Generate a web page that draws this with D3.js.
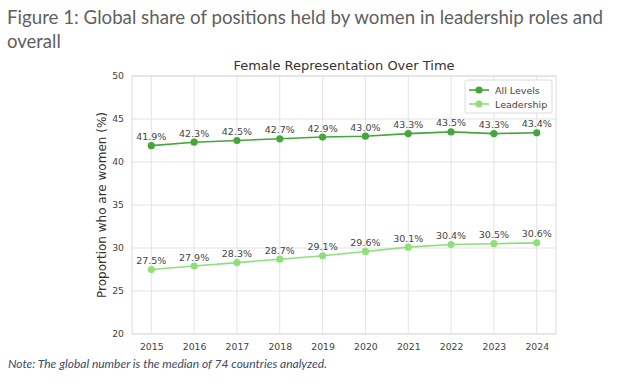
<!DOCTYPE html>
<html>
<head>
<meta charset="utf-8">
<script src="https://cdn.jsdelivr.net/npm/d3@7"></script>
<style>
  body { margin: 0; background: #fff; }
  svg { display: block; }
</style>
</head>
<body>
<div class="canvas"></div>
<script>
// chart data
const years = [2015, 2016, 2017, 2018, 2019, 2020, 2021, 2022, 2023, 2024];
const allLevels = [41.9, 42.3, 42.5, 42.7, 42.9, 43.0, 43.3, 43.5, 43.3, 43.4];
const leadership = [27.5, 27.9, 28.3, 28.7, 29.1, 29.6, 30.1, 30.4, 30.5, 30.6];
const yTicks = [20, 25, 30, 35, 40, 45, 50];

const series = [
    { name: 'All Levels', values: allLevels, color: '#45a63c' },
    { name: 'Leadership', values: leadership, color: '#8fe07a' }
];

const dims = { width: 620, height: 386 };
const plot = { left: 132, right: 556, top: 76, bottom: 334 };

const svg = d3.select('.canvas')
    .append('svg')
    .attr('width', dims.width)
    .attr('height', dims.height);

// header text
const header = svg.append('text')
    .attr('font-family', 'Lato, sans-serif')
    .attr('font-size', 18.5)
    .attr('fill', '#5f6062');
header.append('tspan').attr('x', 7).attr('y', 24)
    .attr('textLength', 596).attr('lengthAdjust', 'spacingAndGlyphs')
    .text('Figure 1: Global share of positions held by women in leadership roles and');
header.append('tspan').attr('x', 7).attr('y', 48).text('overall');

svg.append('text')
    .attr('x', 8).attr('y', 368)
    .attr('font-family', 'Lato, sans-serif')
    .attr('font-style', 'italic')
    .attr('font-size', 11.5)
    .attr('fill', '#3c4a66')
    .attr('textLength', 319).attr('lengthAdjust', 'spacingAndGlyphs')
    .text('Note: The global number is the median of 74 countries analyzed.');

// scales
const x = d3.scaleLinear()
    .domain([2014.55, 2024.45])
    .range([plot.left, plot.right]);

const y = d3.scaleLinear()
    .domain([20, 50])
    .range([plot.bottom, plot.top]);

const font = 'DejaVu Sans, sans-serif';

// grid lines
svg.append('g')
    .selectAll('line')
    .data(years)
    .enter().append('line')
    .attr('x1', d => x(d)).attr('x2', d => x(d))
    .attr('y1', plot.top).attr('y2', plot.bottom)
    .attr('stroke', '#e3e3e3').attr('stroke-width', 1);

svg.append('g')
    .selectAll('line')
    .data(yTicks)
    .enter().append('line')
    .attr('x1', plot.left).attr('x2', plot.right)
    .attr('y1', d => y(d)).attr('y2', d => y(d))
    .attr('stroke', '#e3e3e3').attr('stroke-width', 1);

// frame
svg.append('rect')
    .attr('x', plot.left).attr('y', plot.top)
    .attr('width', plot.right - plot.left)
    .attr('height', plot.bottom - plot.top)
    .attr('fill', 'none')
    .attr('stroke', '#dcdcdc');

// axes (labels only, like seaborn whitegrid)
const xAxis = svg.append('g')
    .attr('transform', `translate(0, ${plot.bottom})`)
    .call(d3.axisBottom(x).tickValues(years).tickFormat(d3.format('d')).tickSize(0).tickPadding(9));
const yAxis = svg.append('g')
    .attr('transform', `translate(${plot.left}, 0)`)
    .call(d3.axisLeft(y).tickValues(yTicks).tickSize(0).tickPadding(8));

[xAxis, yAxis].forEach(ax => {
    ax.select('.domain').remove();
    ax.selectAll('text')
        .attr('font-family', font)
        .attr('font-size', 9.3)
        .attr('fill', '#444');
});

// axis title
svg.append('text')
    .attr('transform', `translate(106, ${(plot.top + plot.bottom) / 2}) rotate(-90)`)
    .attr('text-anchor', 'middle')
    .attr('font-family', font)
    .attr('font-size', 12)
    .attr('fill', '#333')
    .text('Proportion who are women (%)');

// chart title
svg.append('text')
    .attr('x', (plot.left + plot.right) / 2)
    .attr('y', 70)
    .attr('text-anchor', 'middle')
    .attr('font-family', font)
    .attr('font-size', 13)
    .attr('fill', '#333')
    .text('Female Representation Over Time');

// lines, points, labels
const line = d3.line()
    .x((d, i) => x(years[i]))
    .y(d => y(d));

series.forEach(s => {
    const g = svg.append('g');
    g.append('path')
        .datum(s.values)
        .attr('fill', 'none')
        .attr('stroke', s.color)
        .attr('stroke-width', 1.6)
        .attr('d', line);

    g.selectAll('circle')
        .data(s.values)
        .enter().append('circle')
        .attr('cx', (d, i) => x(years[i]))
        .attr('cy', d => y(d))
        .attr('r', 3.6)
        .attr('fill', s.color);

    g.selectAll('text')
        .data(s.values)
        .enter().append('text')
        .attr('x', (d, i) => x(years[i]))
        .attr('y', d => y(d) - 5.5)
        .attr('text-anchor', 'middle')
        .attr('font-family', font)
        .attr('font-size', 9.5)
        .attr('fill', '#444')
        .text(d => d.toFixed(1) + '%');
});

// legend
const legend = svg.append('g')
    .attr('transform', 'translate(465, 80)');
legend.append('rect')
    .attr('width', 87).attr('height', 33)
    .attr('rx', 2)
    .attr('fill', '#fff')
    .attr('stroke', '#dcdcdc');

series.forEach((s, i) => {
    const ly = 10 + i * 14;
    legend.append('line')
        .attr('x1', 4).attr('x2', 24)
        .attr('y1', ly).attr('y2', ly)
        .attr('stroke', s.color).attr('stroke-width', 1.6);
    legend.append('circle')
        .attr('cx', 14).attr('cy', ly).attr('r', 3.6)
        .attr('fill', s.color);
    legend.append('text')
        .attr('x', 30).attr('y', ly + 3.5)
        .attr('font-family', font)
        .attr('font-size', 9.5)
        .attr('fill', '#444')
        .text(s.name);
});
</script>
</body>
</html>
